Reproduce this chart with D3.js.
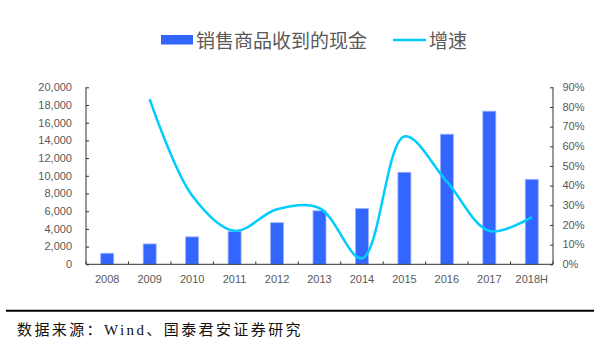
<!DOCTYPE html>
<html><head><meta charset="utf-8">
<script src="https://cdn.jsdelivr.net/npm/d3@7"></script>
<style>body{margin:0;background:#fff}svg{display:block}</style>
</head><body><svg id="c" width="594" height="342"></svg>
<script>
const categories = ["2008","2009","2010","2011","2012","2013","2014","2015","2016","2017","2018H"];
const cashValues = [1250, 2300, 3100, 3700, 4700, 6050, 6300, 10400, 14700, 17300, 9600];
const growthValues = [null, 84, 35, 17, 28, 28.5, 3, 65, 42, 17, 24];
const leftTicks = [0,2000,4000,6000,8000,10000,12000,14000,16000,18000,20000];
const rightTicks = [0,10,20,30,40,50,60,70,80,90];
const legendLabels = ["销售商品收到的现金","增速"];
const sourceText = "数据来源：Wind、国泰君安证券研究";

const svg = d3.select("#c");
const L = 86, R = 553, T = 87.3, B = 264.3;
const x = d3.scaleBand().domain(categories).range([L, R]);
const yL = d3.scaleLinear().domain([0, 20000]).range([B, T]);
const yR = d3.scaleLinear().domain([0, 90]).range([B, T]);
const txt = "#595959", axc = "#333";
const font = "'Liberation Sans', Arial, sans-serif";

// bars
const bw = 13;
svg.append("g").selectAll("rect").data(cashValues).join("rect")
  .attr("x", (d,i) => x(categories[i]) + x.bandwidth()/2 - bw/2)
  .attr("y", d => yL(d))
  .attr("width", bw).attr("height", d => B - yL(d))
  .attr("fill", "#3366FF").attr("stroke", "#9db3ff").attr("stroke-width", 0.8);

// line
const pts = growthValues.map((v,i) => v == null ? null : [x(categories[i]) + x.bandwidth()/2, yR(v)]).filter(p => p);
svg.append("path").attr("d", d3.line().curve(d3.curveCatmullRom.alpha(0.5))(pts))
  .attr("fill", "none").attr("stroke", "#00CCFF").attr("stroke-width", 2.5);

// left axis
const gL = svg.append("g").attr("transform", `translate(${L},0)`)
  .call(d3.axisRight(yL).tickValues(leftTicks).tickSize(3).tickFormat(""));
gL.selectAll("path,line").attr("stroke", axc);
gL.select(".domain").attr("d", `M0,${T}V${B}`);
svg.append("g").selectAll("text").data(leftTicks).join("text")
  .attr("x", L - 14).attr("y", d => yL(d)).attr("dy", "0.35em")
  .attr("text-anchor", "end").attr("font-family", font).attr("font-size", 11)
  .attr("fill", txt).text(d => d3.format(",")(d));

// right axis
const gR = svg.append("g").attr("transform", `translate(${R},0)`)
  .call(d3.axisLeft(yR).tickValues(rightTicks).tickSize(3).tickFormat(""));
gR.selectAll("path,line").attr("stroke", axc);
gR.select(".domain").attr("d", `M0,${T}V${B}`);
svg.append("g").selectAll("text").data(rightTicks).join("text")
  .attr("x", R + 9.5).attr("y", d => yR(d)).attr("dy", "0.35em")
  .attr("text-anchor", "start").attr("font-family", font).attr("font-size", 11)
  .attr("fill", txt).text(d => d + "%");

// bottom axis
svg.append("line").attr("x1", L).attr("x2", R).attr("y1", B).attr("y2", B).attr("stroke", axc);
const bounds = categories.map(c => x(c)).concat([R]);
svg.append("g").selectAll("line").data(bounds).join("line")
  .attr("x1", d => d).attr("x2", d => d).attr("y1", B).attr("y2", B - 3).attr("stroke", axc);
svg.append("g").selectAll("text").data(categories).join("text")
  .attr("x", d => x(d) + x.bandwidth()/2).attr("y", 279.5).attr("dy", "0.35em")
  .attr("text-anchor", "middle").attr("font-family", font).attr("font-size", 11)
  .attr("fill", txt).text(d => d);

// legend
const cjk = "'Noto Sans CJK SC', sans-serif";
svg.append("rect").attr("x", 161).attr("y", 35).attr("width", 32).attr("height", 9.5).attr("fill", "#3366FF");
svg.append("text").attr("x", 196).attr("y", 41).attr("dy", "0.35em")
  .attr("font-family", cjk).attr("font-size", 19).attr("fill", txt).text(legendLabels[0]);
svg.append("line").attr("x1", 393).attr("x2", 426).attr("y1", 40).attr("y2", 40)
  .attr("stroke", "#00CCFF").attr("stroke-width", 2.5);
svg.append("text").attr("x", 429).attr("y", 41).attr("dy", "0.35em")
  .attr("font-family", cjk).attr("font-size", 19).attr("fill", txt).text(legendLabels[1]);

// footer
svg.append("line").attr("x1", 6).attr("x2", 594).attr("y1", 310.7).attr("y2", 310.7)
  .attr("stroke", "#000").attr("stroke-width", 2);
svg.append("text").attr("x", 17).attr("y", 330).attr("dy", "0.35em")
  .attr("font-family", "'Liberation Serif', 'Noto Sans CJK SC', serif").attr("font-size", 15)
  .attr("letter-spacing", 2.4).attr("fill", "#111").text(sourceText);
</script></body></html>
